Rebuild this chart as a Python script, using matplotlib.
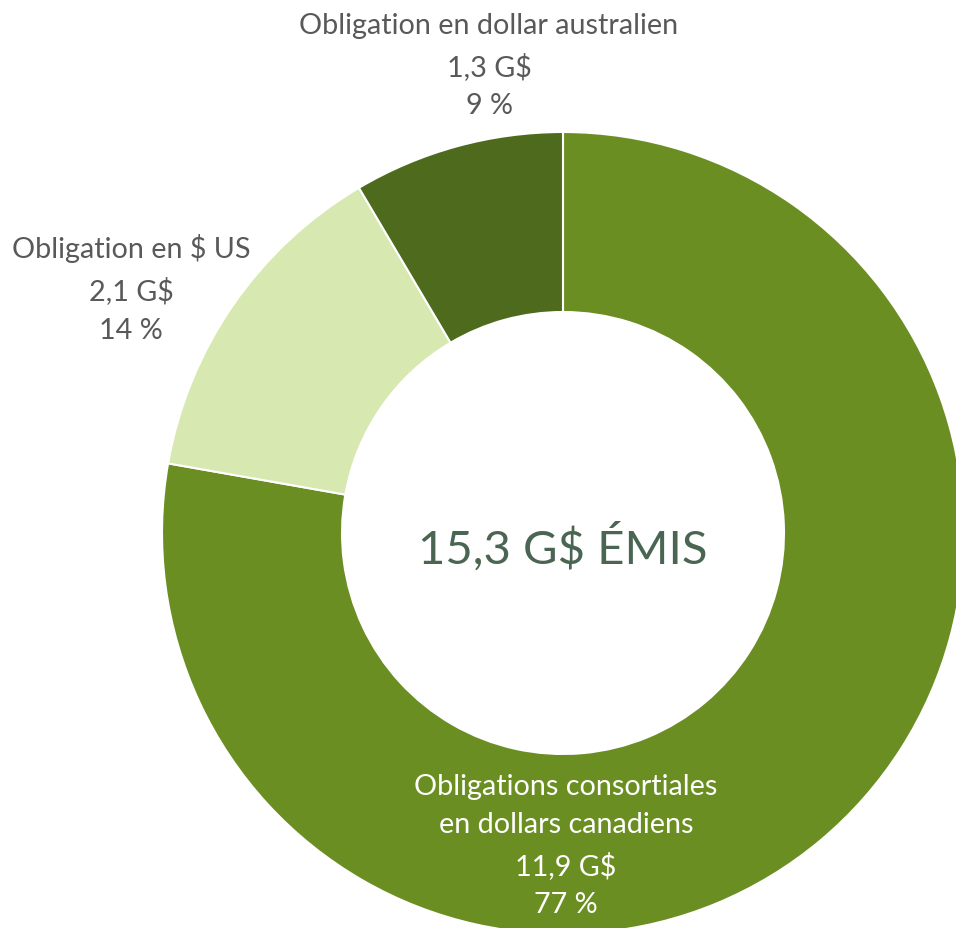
import matplotlib.pyplot as plt

plt.rcParams.update({
    'font.family': ['Lato', 'DejaVu Sans'],
})

# data (G$)
categories = ['Obligations consortiales\nen dollars canadiens', 'Obligation en $ US',
              'Obligation en dollar australien']
amounts = [11.9, 2.1, 1.3]
amount_labels = ['11,9 G$', '2,1 G$', '1,3 G$']
pct_labels = ['77 %', '14 %', '9 %']
total_label = '15,3 G$ ÉMIS'

colors = ['#6b8e23', '#d7e8b0', '#4e6b1d']

W, H = 956, 929
fig = plt.figure(figsize=(W / 100, H / 100), dpi=100)
ax = fig.add_axes([0, 0, 1, 1])

cx, cy = 563, H - 534
r_out, r_in = 401, 221

ax.pie(amounts, colors=colors, startangle=90, counterclock=False,
       center=(cx, cy), radius=r_out, frame=True,
       wedgeprops=dict(width=r_out - r_in, edgecolor='white', linewidth=1.5))

ax.set_xlim(0, W)
ax.set_ylim(0, H)
ax.set_aspect('equal')
ax.axis('off')

grey = '#595959'
fs = 20.7
# label positions (pixels from top-left)
label_pos = [(566, 846), (131, 289), (489, 66)]
label_colors = ['white', grey, grey]
for cat, am, pc, (x, y), c in zip(categories, amount_labels, pct_labels, label_pos, label_colors):
    ax.text(x, H - y, f'{cat}\n{am}\n{pc}', ha='center', va='center', fontsize=fs,
            color=c, linespacing=1.6)

ax.text(cx, H - 547, total_label, ha='center', va='center', fontsize=34,
        color='#4a6652')

fig.savefig('out.png', dpi=100)
